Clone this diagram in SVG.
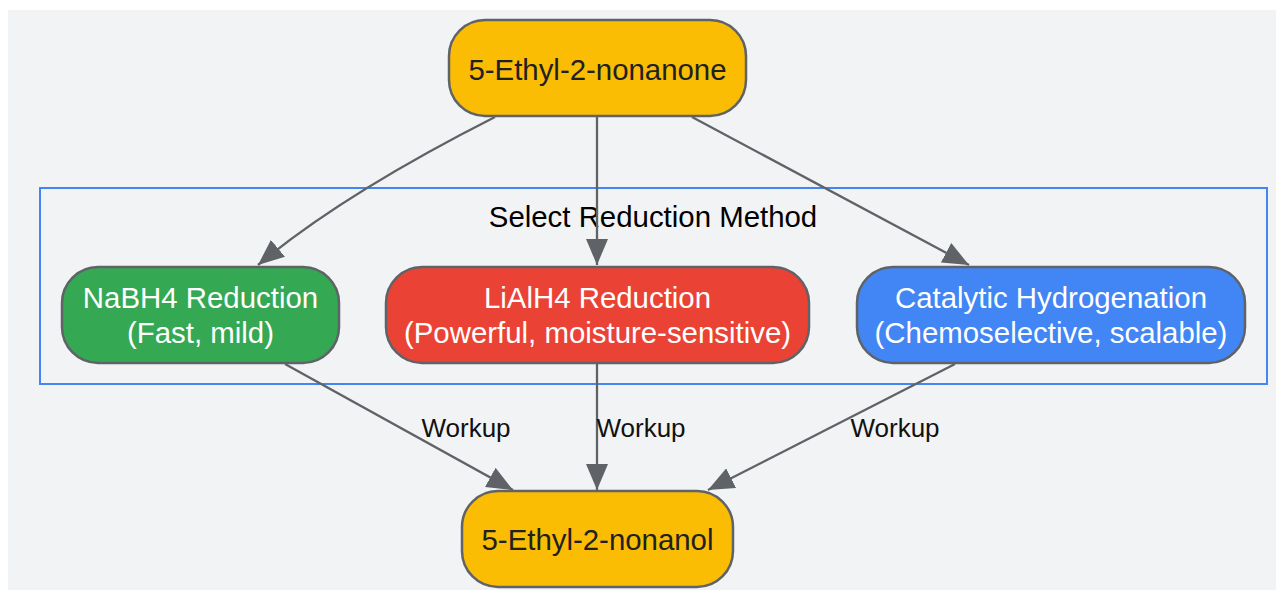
<svg xmlns="http://www.w3.org/2000/svg" width="1284" height="590" viewBox="0 0 1284 590">
<style>
.node rect{stroke:#5f6368;stroke-width:2.5}
.t{font-family:"Liberation Sans",Arial,sans-serif;font-size:29.4px;text-anchor:middle}
.dark{fill:#202124}
.light{fill:#ffffff}
.lbl{font-family:"Liberation Sans",Arial,sans-serif;font-size:26px;text-anchor:middle;fill:#111111}
.edge{fill:none;stroke:#5f6368;stroke-width:2.3}
</style>
<defs>
<marker id="arr" markerUnits="userSpaceOnUse" markerWidth="26" markerHeight="22" viewBox="0 0 26 22" refX="26" refY="11" orient="auto">
<path d="M0,0 L26,11 L0,22 z" fill="#5f6368"/>
</marker>
</defs>
<rect x="8" y="10" width="1268" height="580" fill="#f1f3f4"/>
<g id="cluster">
<rect x="40" y="188" width="1227" height="196" fill="none" stroke="#4285f4" stroke-width="2"/>
<text class="t" x="653" y="227" fill="#000000">Select Reduction Method</text>
</g>
<g id="edges">
<path class="edge" d="M495,117 C420,155 330,205 258,265" marker-end="url(#arr)"/>
<path class="edge" d="M597,117 L597,265" marker-end="url(#arr)"/>
<path class="edge" d="M692,117 L969,265" marker-end="url(#arr)"/>
<path class="edge" d="M285,364 L513,490" marker-end="url(#arr)"/>
<path class="edge" d="M597,364 L597,490" marker-end="url(#arr)"/>
<path class="edge" d="M955,364 L708,490" marker-end="url(#arr)"/>
<text class="lbl" x="466" y="437">Workup</text>
<text class="lbl" x="641" y="437">Workup</text>
<text class="lbl" x="895" y="437">Workup</text>
</g>
<g id="ketone" class="node">
<rect x="449" y="20" width="297" height="96" rx="36" fill="#fbbc04"/>
<text class="t dark" x="597.5" y="80">5-Ethyl-2-nonanone</text>
</g>
<g id="nabh4" class="node">
<rect x="62" y="267" width="277" height="96" rx="36" fill="#34a853"/>
<text class="t light" x="200.5" y="308">NaBH4 Reduction</text>
<text class="t light" x="200.5" y="343">(Fast, mild)</text>
</g>
<g id="lialh4" class="node">
<rect x="386" y="267" width="423" height="96" rx="36" fill="#ea4335"/>
<text class="t light" x="597.5" y="308">LiAlH4 Reduction</text>
<text class="t light" x="597.5" y="343">(Powerful, moisture-sensitive)</text>
</g>
<g id="hydrogenation" class="node">
<rect x="857" y="267" width="388" height="96" rx="36" fill="#4285f4"/>
<text class="t light" x="1051" y="308">Catalytic Hydrogenation</text>
<text class="t light" x="1051" y="343">(Chemoselective, scalable)</text>
</g>
<g id="alcohol" class="node">
<rect x="462" y="491" width="271" height="96" rx="36" fill="#fbbc04"/>
<text class="t dark" x="597.5" y="550">5-Ethyl-2-nonanol</text>
</g>
</svg>
